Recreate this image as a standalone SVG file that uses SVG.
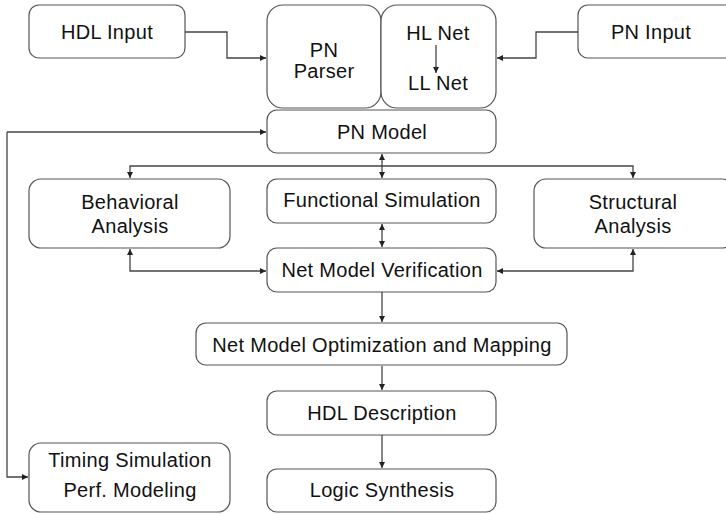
<svg xmlns="http://www.w3.org/2000/svg" width="726" height="514" viewBox="0 0 726 514">
<style>
.box{fill:#fff;stroke:#555;stroke-width:1.2}
.t{font-family:"Liberation Sans",Arial,sans-serif;font-size:20px;fill:#111;text-anchor:middle;letter-spacing:0.3px}
.c{fill:none;stroke:#444;stroke-width:1.3}
</style>
<defs>
<marker id="ah" viewBox="0 0 8 8" refX="8" refY="4" markerWidth="6" markerHeight="6" orient="auto-start-reverse" markerUnits="userSpaceOnUse">
<path d="M0,0 L8,4 L0,8 z" fill="#222"/>
</marker>
</defs>
<rect width="726" height="514" fill="#fff"/>
<g id="hdl-input"><rect class="box" x="29" y="5" width="156" height="53" rx="10"/><text class="t" x="107" y="39">HDL Input</text></g>
<g id="pn-parser"><rect class="box" x="267" y="5" width="114" height="103" rx="16"/><text class="t" x="324" y="57">PN</text><text class="t" x="324" y="78">Parser</text></g>
<g id="hl-net"><rect class="box" x="381" y="5" width="115" height="103" rx="16"/><text class="t" x="438" y="40">HL Net</text><text class="t" x="438" y="90">LL Net</text></g>
<g id="pn-input"><rect class="box" x="578" y="5" width="160" height="53" rx="10"/><text class="t" x="651" y="39">PN Input</text></g>
<g id="pn-model"><rect class="box" x="267" y="110" width="229" height="43" rx="10"/><text class="t" x="382" y="139">PN Model</text></g>
<g id="behavioral"><rect class="box" x="29" y="179" width="201" height="69" rx="12"/><text class="t" x="130" y="209">Behavioral</text><text class="t" x="130" y="233">Analysis</text></g>
<g id="functional"><rect class="box" x="267" y="179" width="229" height="44" rx="10"/><text class="t" x="382" y="207">Functional Simulation</text></g>
<g id="structural"><rect class="box" x="534" y="179" width="200" height="69" rx="12"/><text class="t" x="633" y="209">Structural</text><text class="t" x="633" y="233">Analysis</text></g>
<g id="verification"><rect class="box" x="267" y="248" width="229" height="44" rx="10"/><text class="t" x="382" y="277">Net Model Verification</text></g>
<g id="optimization"><rect class="box" x="196" y="323" width="371" height="42" rx="10"/><text class="t" x="382" y="352">Net Model Optimization and Mapping</text></g>
<g id="hdl-description"><rect class="box" x="267" y="391" width="229" height="44" rx="10"/><text class="t" x="382" y="420">HDL Description</text></g>
<g id="timing"><rect class="box" x="29" y="443" width="201" height="69" rx="12"/><text class="t" x="130" y="467">Timing Simulation</text><text class="t" x="130" y="497">Perf. Modeling</text></g>
<g id="logic-synthesis"><rect class="box" x="267" y="469" width="229" height="43" rx="10"/><text class="t" x="382" y="497">Logic Synthesis</text></g>
<g id="connectors">
<path class="c" d="M185,32 H227 V58 H266" marker-end="url(#ah)"/>
<path class="c" d="M578,32 H536 V58 H497" marker-end="url(#ah)"/>
<path class="c" d="M436,45 V73" marker-end="url(#ah)"/>
<path class="c" d="M7,132 H266" marker-end="url(#ah)"/>
<path class="c" d="M7,132 V477 H28" marker-end="url(#ah)"/>
<path class="c" d="M382,154 V178" marker-start="url(#ah)" marker-end="url(#ah)"/>
<path class="c" d="M130,178 V166 H633 V178" marker-start="url(#ah)" marker-end="url(#ah)"/>
<path class="c" d="M382,224 V247" marker-start="url(#ah)" marker-end="url(#ah)"/>
<path class="c" d="M130,249 V271 H266" marker-start="url(#ah)" marker-end="url(#ah)"/>
<path class="c" d="M633,249 V271 H497" marker-start="url(#ah)" marker-end="url(#ah)"/>
<path class="c" d="M382,292 V322" marker-end="url(#ah)"/>
<path class="c" d="M382,366 V390" marker-end="url(#ah)"/>
<path class="c" d="M382,435 V468" marker-end="url(#ah)"/>
</g>
</svg>
